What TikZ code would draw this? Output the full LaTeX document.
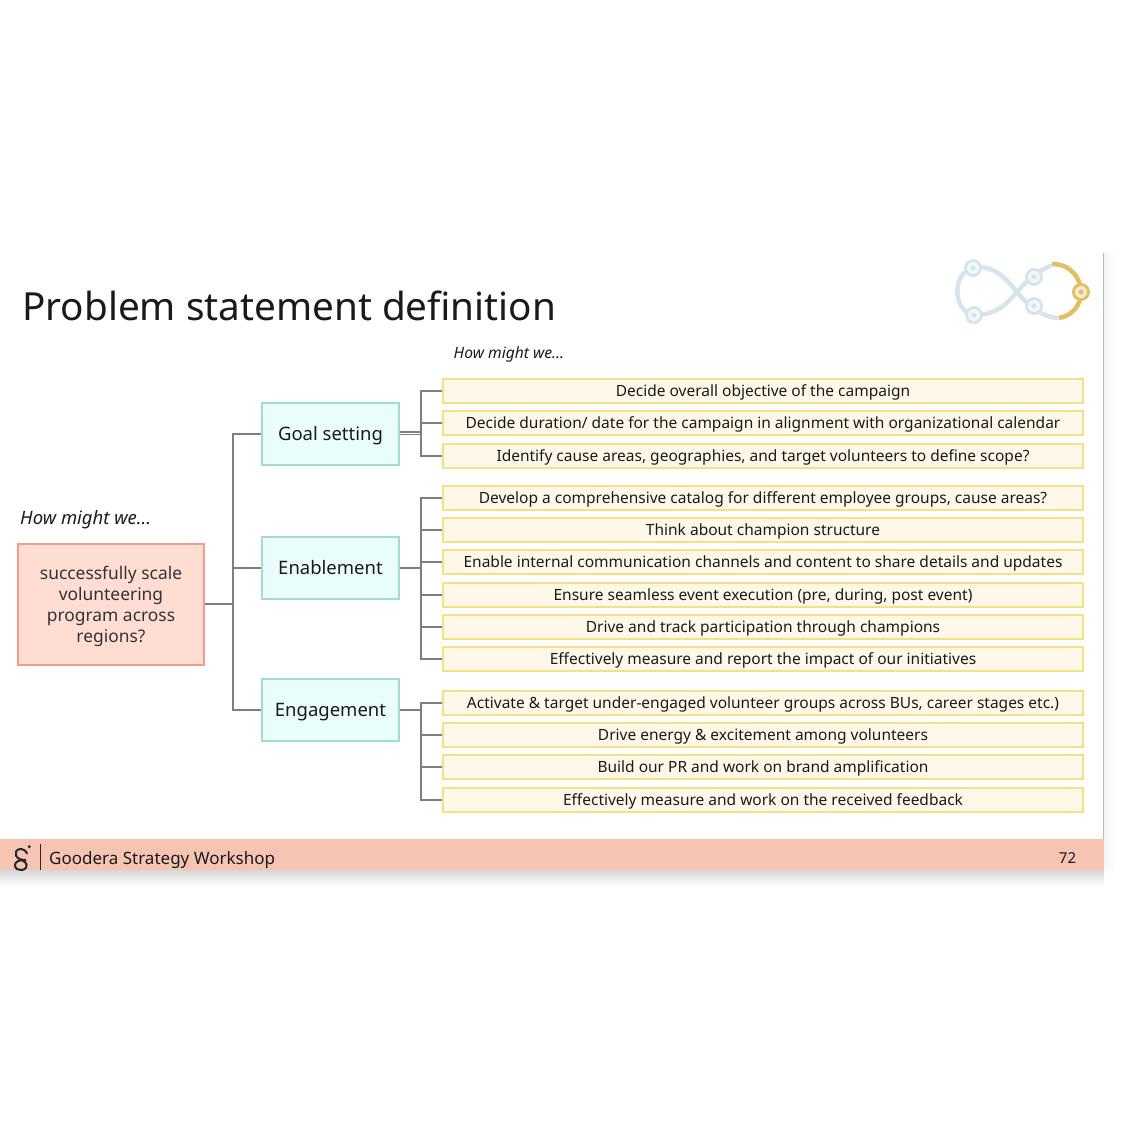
\documentclass[tikz,border=0pt]{standalone}
\usepackage{fontspec}
\setmainfont{Noto Sans}
\usetikzlibrary{positioning, calc, shadings}

\definecolor{srcfill}{HTML}{FFDDD3}
\definecolor{srcline}{HTML}{EE9F8C}
\definecolor{goalfill}{HTML}{E9FDFC}
\definecolor{goalline}{HTML}{A3DCCB}
\definecolor{itemfill}{HTML}{FFF8E8}
\definecolor{itemline}{HTML}{F5E08A}
\definecolor{barfill}{HTML}{F5C4B3}
\definecolor{wire}{HTML}{7F7F7F}
\definecolor{loopblue}{HTML}{D6E4EB}
\definecolor{loopgold}{HTML}{E3BE62}
\definecolor{inktext}{HTML}{1A1A1A}

\begin{document}
\begin{tikzpicture}[
            x=1pt, y=-1pt,
            font=\fontsize{15.5}{19}\selectfont,
            text=inktext,
            link/.style    ={draw=wire, line width=1.2pt},
            src/.style     ={draw=srcline, fill=srcfill, line width=1.4pt, minimum width=186pt, minimum height=121pt,
                             align=center, inner sep=0pt, font=\fontsize{17.4}{21}\selectfont, text=black!80},
            goal/.style    ={draw=goalline, fill=goalfill, line width=1.2pt, minimum width=137pt, minimum height=62pt,
                             inner sep=0pt, text height=15pt, text depth=2pt, font=\fontsize{18.5}{22}\selectfont},
            item/.style    ={draw=itemline, fill=itemfill, line width=1.2pt, minimum width=640pt, minimum height=24pt,
                             inner sep=0pt, text height=13pt, text depth=2pt},
            hmw/.style     ={font=\fontsize{18.5}{22}\selectfont\itshape, anchor=west, inner sep=0pt},
            halo/.style    ={draw=loopblue, line width=4.5pt, line cap=round}
        ]
        \useasboundingbox (0,0) rectangle (1125,1125);

        % slide edge and footer shadow
        \shade[top color=black!16, bottom color=white] (0,870) rectangle (1104,886);
        \shade[left color=black!4, right color=white] (1104,253) rectangle (1116,870);
        \draw[draw=black!28, line width=1.5pt] (1103.5,253) -- (1103.5,840);
        \fill[barfill] (0,839) rectangle (1104,870);

        \node[anchor=west, inner sep=0pt, font=\fontsize{38.7}{46}\selectfont] (title) at (22,306) {Problem statement definition};

        % infinity loop, top right
        \draw[halo] (1050,266) .. controls (1040,270) and (1028,279) .. (1017,292)
                    .. controls (1005,306) and (995,315) .. (974,315)
                    .. controls (952,312) and (952,272) .. (973,268)
                    .. controls (992,264) and (1005,277) .. (1017,292)
                    .. controls (1028,305) and (1040,316) .. (1057,318);
        \draw[draw=loopgold, line width=4.5pt] (1052,264) .. controls (1072,264) and (1081,280) .. (1081,292)
                    .. controls (1081,305) and (1072,316) .. (1059,318);
        \foreach \px/\py in {973/268,974/315,1034/277,1034/306}{
            \fill[loopblue] (\px,\py) circle (9);
            \fill[white!70!loopblue] (\px,\py) circle (6);
            \fill[loopblue] (\px,\py) circle (2.5);
        }
        \fill[loopgold] (1081,292) circle (9);
        \fill[white!70!loopgold] (1081,292) circle (6);
        \fill[loopgold] (1081,292) circle (2.5);

        \node[hmw, font=\fontsize{15.6}{18}\selectfont\itshape] (hmwtop) at (453.5,354.5) {How might we…};
        \node[hmw] (hmwleft) at (20,519.5) {How might we…};

        \node[src] (scale) at (111,604.5) {\rule{0pt}{17.5pt}successfully scale\\volunteering\\program across\\regions?};

        \node[goal] (setting) at (330.5,434) {Goal setting};
        \node[goal] (enable)  at (330.5,568) {Enablement};
        \node[goal] (engage)  at (330.5,710) {Engagement};

        \coordinate (trunk) at (233,604);
        \draw[link] (scale.east |- trunk) -- (trunk);
        \foreach \g in {setting,enable,engage}{
            \draw[link] (trunk) |- (\g.west);
        }

        % goal setting
        \node[item] (s1) at (763,391) {Decide overall objective of the campaign};
        \node[item] (s2) at (763,423) {Decide duration/ date for the campaign in alignment with organizational calendar};
        \node[item] (s3) at (763,456) {Identify cause areas, geographies, and target volunteers to define scope?};

        % enablement
        \node[item] (e1) at (763,498) {Develop a comprehensive catalog for different employee groups, cause areas?};
        \node[item] (e2) at (763,530) {Think about champion structure};
        \node[item] (e3) at (763,562) {Enable internal communication channels and content to share details and updates};
        \node[item] (e4) at (763,595) {Ensure seamless event execution (pre, during, post event)};
        \node[item] (e5) at (763,627) {Drive and track participation through champions};
        \node[item] (e6) at (763,659) {Effectively measure and report the impact of our initiatives};

        % engagement
        \node[item] (g1) at (763,703) {Activate \& target under-engaged volunteer groups across BUs, career stages etc.)};
        \node[item] (g2) at (763,735) {Drive energy \& excitement among volunteers};
        \node[item] (g3) at (763,767) {Build our PR and work on brand amplification};
        \node[item] (g4) at (763,800) {Effectively measure and work on the received feedback};

        \coordinate (forks) at (421,433);
        \coordinate (forke) at (421,568);
        \coordinate (forkg) at (421,710);
        \draw[link] (setting.east |- forks) ++(0,-1.1) -- ($(forks)+(0,-1.1)$);
        \draw[link] (setting.east |- forks) ++(0,1.1) -- ($(forks)+(0,1.1)$);
        \draw[link] (enable.east) -- (forke);
        \draw[link] (engage.east) -- (forkg);
        \foreach \i in {s1,s2,s3}{\draw[link] (forks) |- (\i.west);}
        \foreach \i in {e1,e2,e3,e4,e5,e6}{\draw[link] (forke) |- (\i.west);}
        \foreach \i in {g1,g2,g3,g4}{\draw[link] (forkg) |- (\i.west);}

        % footer
        \draw[draw=black!85, line width=2pt, line cap=round]
              (27,853.5) .. controls (26,850) and (22,849) .. (20,849)
              .. controls (16,849.5) and (15,853) .. (16,855.5)
              .. controls (17,859) and (22,860) .. (26,860)
              .. controls (19,859.5) and (15,862) .. (15,865)
              .. controls (15,869) and (18,870) .. (21,870)
              .. controls (25,870) and (27,867.5) .. (26.5,864.5)
              .. controls (26,862) and (24,861) .. (22.5,861);
        \fill[black!85] (29.3,846.7) circle (1.6);
        \draw[draw=black!85, line width=1pt] (40.5,844) -- (40.5,870);
        \node[anchor=west, inner sep=0pt, font=\fontsize{17}{21}\selectfont] (brand) at (49,860) {Goodera Strategy Workshop};
        \node[inner sep=0pt, font=\fontsize{15}{18}\selectfont] (pageno) at (1067.5,858) {72};
\end{tikzpicture}
\end{document}
